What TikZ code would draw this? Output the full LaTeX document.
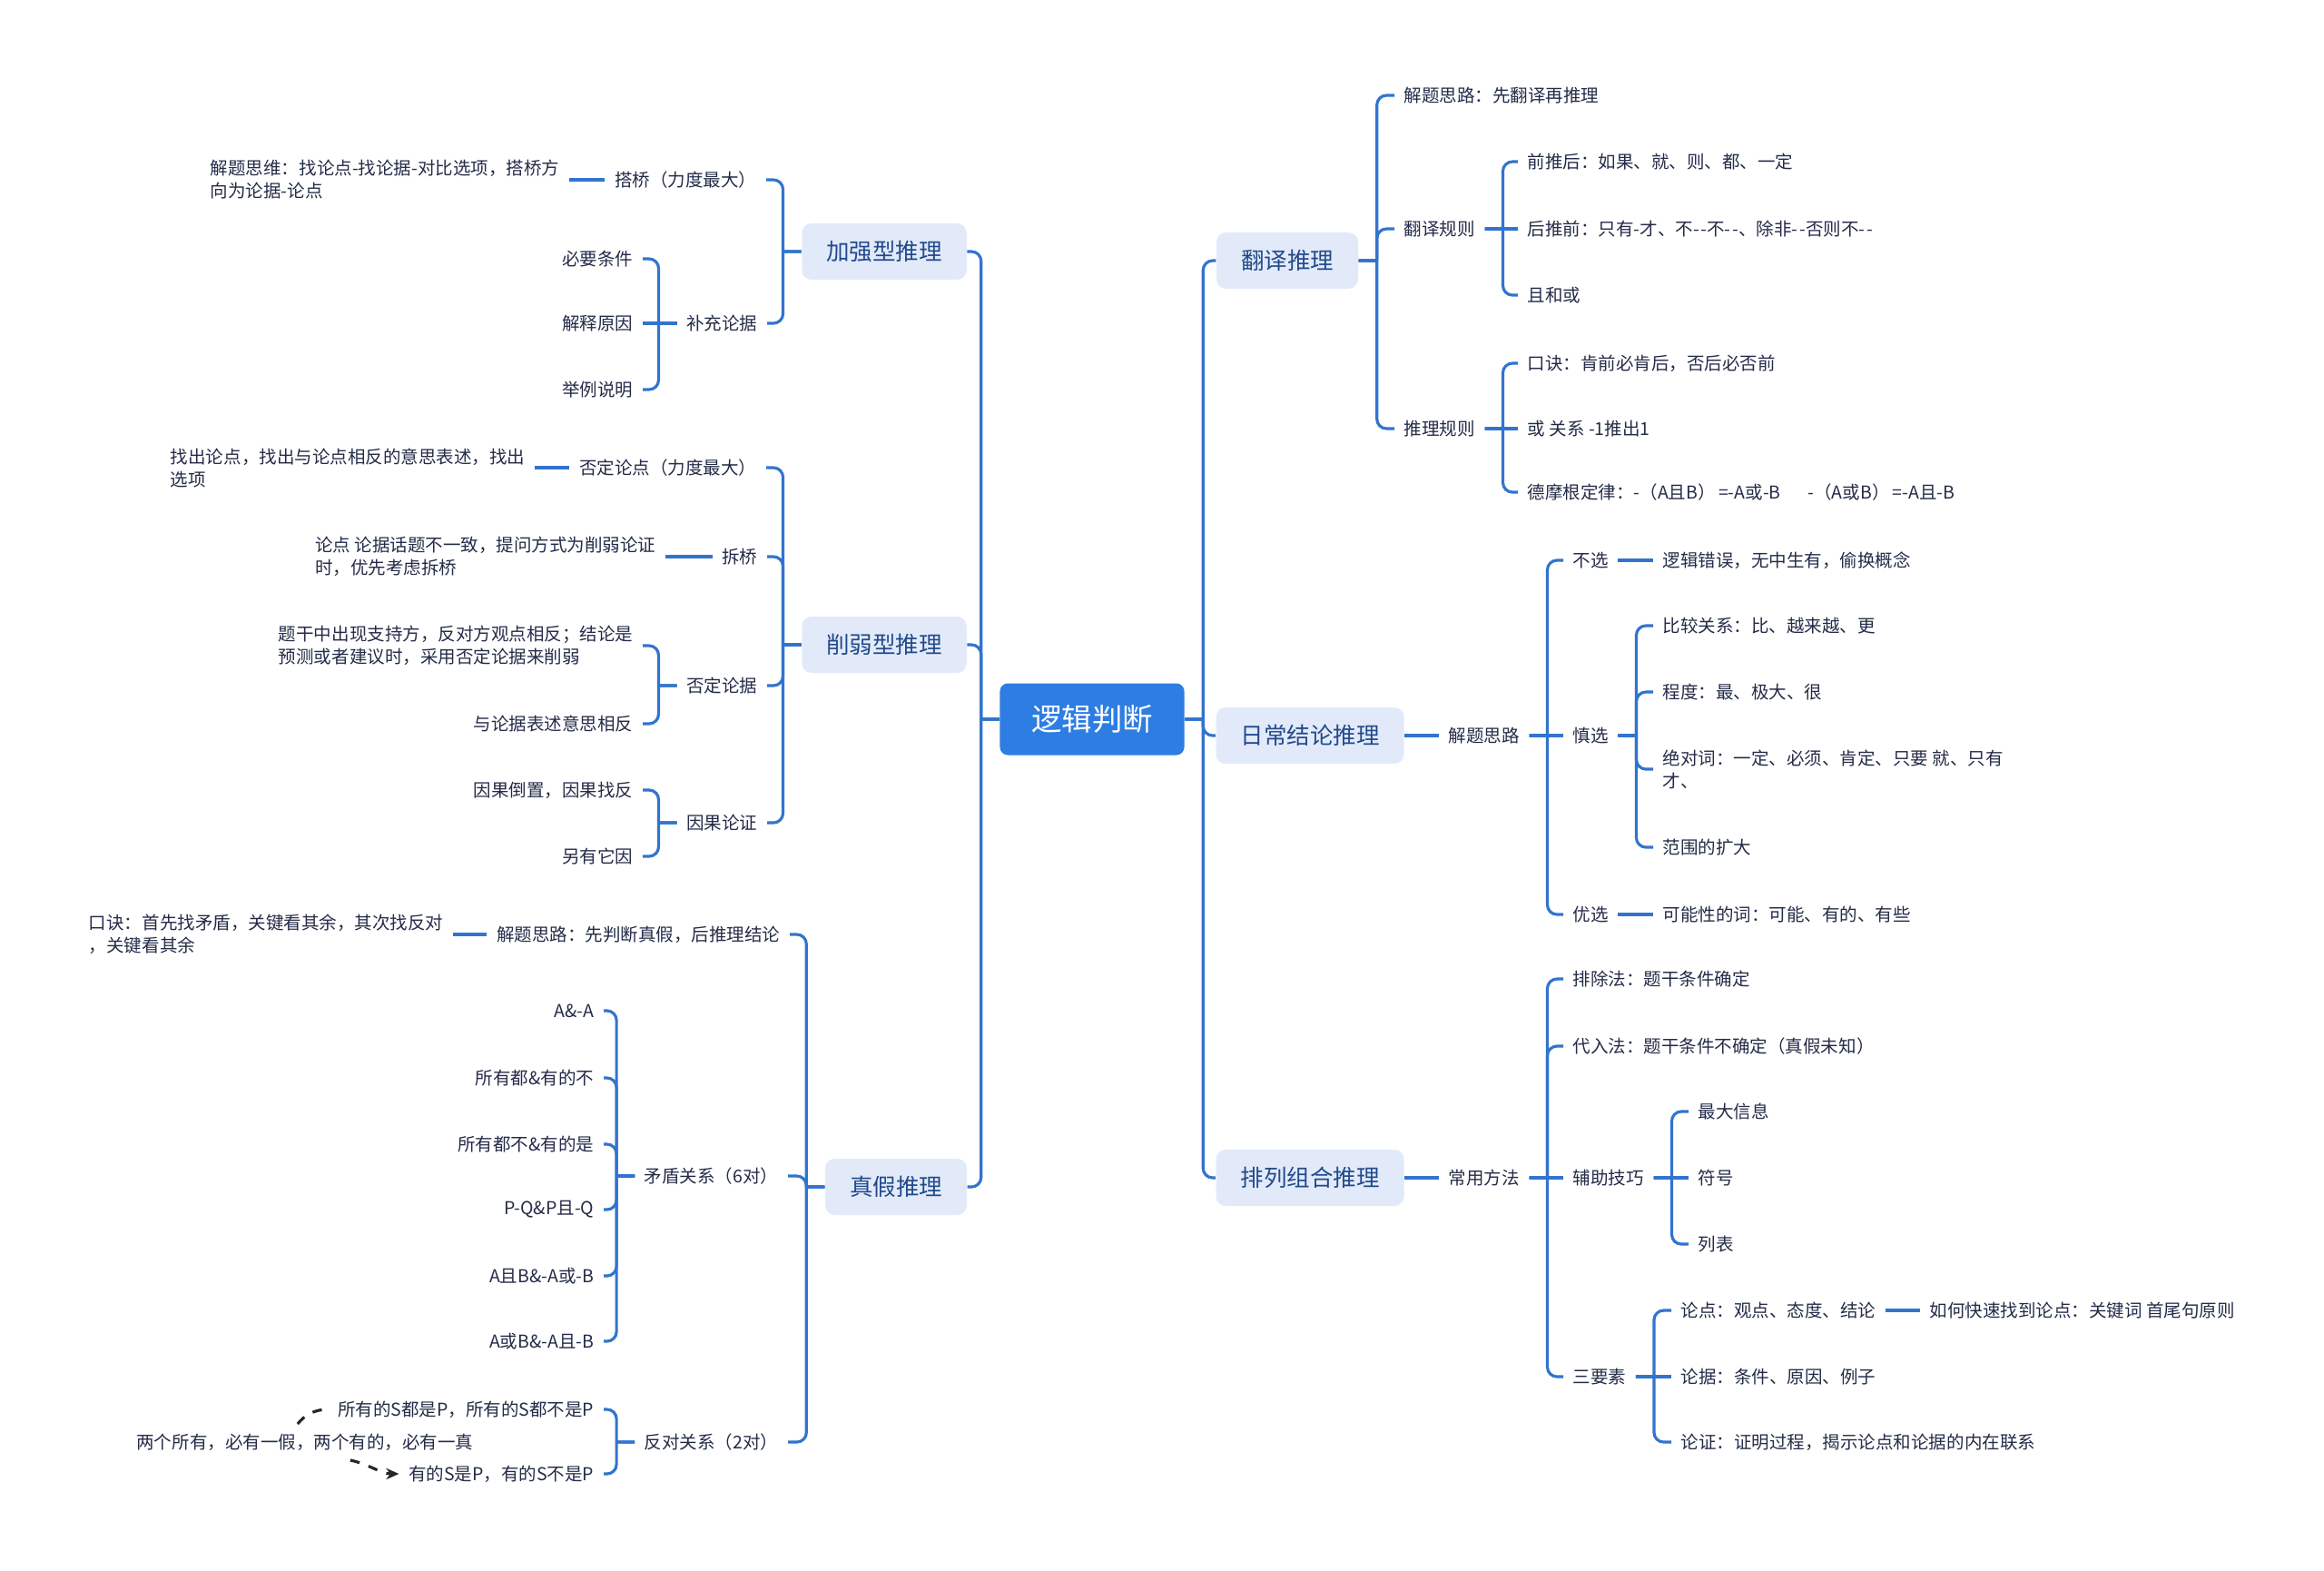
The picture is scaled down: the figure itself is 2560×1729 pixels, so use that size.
\documentclass[tikz,border=0pt]{standalone}
\usepackage{fontspec}
\setmainfont{Noto Sans CJK SC}
\usetikzlibrary{arrows.meta, calc}
\definecolor{linkblue}{RGB}{50,116,205}
\definecolor{rootblue}{RGB}{46,125,226}
\definecolor{mainfill}{RGB}{226,234,250}
\definecolor{maintext}{RGB}{34,74,138}
\definecolor{leaftext}{RGB}{36,44,72}

\tikzset{
    rootbox/.style={fill=rootblue, text=white, rounded corners=2.5pt, minimum width=2.03cm, minimum height=0.79cm, font=\fontsize{9.5pt}{11pt}\selectfont},
    mainbox/.style={fill=mainfill, text=maintext, rounded corners=3pt, inner xsep=0.27cm, minimum height=0.62cm, font=\fontsize{7.25pt}{9pt}\selectfont},
    leaf/.style={text=leaftext, inner sep=0.1cm, font=\fontsize{5.55pt}{7.1pt}\selectfont},
    lleaf/.style={leaf, anchor=east},
    rleaf/.style={leaf, anchor=west},
    link/.style={draw=linkblue, line width=0.9pt, rounded corners=3pt},
    toleft/.style={to path={-- ++(-20,0) coordinate (jn) (\tikztotarget) -| (jn)}},
    toright/.style={to path={-- ++(20,0) coordinate (jn) (\tikztotarget) -| (jn)}},
    relline/.style={draw=black!85, dashed, line width=0.9pt},
}

\begin{document}
\begin{tikzpicture}[x=0.01cm, y=-0.01cm]
    \fill[white] (0,0) rectangle (2560,1729);
    \useasboundingbox (0,0) rectangle (2560,1729);

    % Root
    \node[rootbox] (root) at (1203,792) {逻辑判断};

    % Main branches
    \node[mainbox] (jq) at (974,277) {加强型推理};
    \node[mainbox] (xr) at (974,710) {削弱型推理};
    \node[mainbox] (zj) at (987,1307) {真假推理};
    \node[mainbox] (fy) at (1418,287) {翻译推理};
    \node[mainbox] (rc) at (1443,810) {日常结论推理};
    \node[mainbox] (pl) at (1443,1297) {排列组合推理};

    \foreach \c in {jq,xr,zj}
        \draw[link] (root.west) to[toleft] (\c.east);
    \foreach \c in {fy,rc,pl}
        \draw[link] (root.east) to[toright] (\c.west);

    % 加强型推理
    \node[lleaf] (jq_dq) at (844,198) {搭桥（力度最大）};
    \node[lleaf, align=left] (jq_dq_n) at (627,198) {解题思维：找论点-找论据-对比选项，搭桥方\\向为论据-论点};
    \node[lleaf] (jq_bc) at (845,356) {补充论据};
    \node[lleaf] (jq_bc1) at (708,285) {必要条件};
    \node[lleaf] (jq_bc2) at (708,356) {解释原因};
    \node[lleaf] (jq_bc3) at (708,429) {举例说明};
    \draw[link] (jq.west) to[toleft] (jq_dq.east);
    \draw[link] (jq.west) to[toleft] (jq_bc.east);
    \draw[link] (jq_dq.west) -- (jq_dq_n.east);
    \draw[link] (jq_bc.west) to[toleft] (jq_bc1.east);
    \draw[link] (jq_bc.west) -- (jq_bc2.east);
    \draw[link] (jq_bc.west) to[toleft] (jq_bc3.east);

    % 削弱型推理
    \node[lleaf] (xr_fd) at (844,515) {否定论点（力度最大）};
    \node[lleaf, align=left] (xr_fd_n) at (589,515) {找出论点，找出与论点相反的意思表述，找出\\选项};
    \node[lleaf] (xr_cq) at (845,613) {拆桥};
    \node[lleaf, align=left] (xr_cq_n) at (733,613) {论点 论据话题不一致，提问方式为削弱论证\\时，优先考虑拆桥};
    \node[lleaf] (xr_fj) at (845,755) {否定论据};
    \node[lleaf, align=left] (xr_fj1) at (708,711) {题干中出现支持方，反对方观点相反；结论是\\预测或者建议时，采用否定论据来削弱};
    \node[lleaf] (xr_fj2) at (708,797) {与论据表述意思相反};
    \node[lleaf] (xr_yg) at (845,906) {因果论证};
    \node[lleaf] (xr_yg1) at (708,870) {因果倒置，因果找反};
    \node[lleaf] (xr_yg2) at (708,943) {另有它因};
    \foreach \c in {xr_fd,xr_cq,xr_fj,xr_yg}
        \draw[link] (xr.west) to[toleft] (\c.east);
    \draw[link] (xr_fd.west) -- (xr_fd_n.east);
    \draw[link] (xr_cq.west) -- (xr_cq_n.east);
    \draw[link] (xr_fj.west) to[toleft] (xr_fj1.east);
    \draw[link] (xr_fj.west) to[toleft] (xr_fj2.east);
    \draw[link] (xr_yg.west) to[toleft] (xr_yg1.east);
    \draw[link] (xr_yg.west) to[toleft] (xr_yg2.east);

    % 真假推理
    \node[lleaf] (zj_sl) at (870,1029) {解题思路：先判断真假，后推理结论};
    \node[lleaf, align=left] (zj_sl_n) at (499,1029) {口诀：首先找矛盾，关键看其余，其次找反对\\，关键看其余};
    \node[lleaf] (zj_md) at (868,1295) {矛盾关系（6对）};
    \node[lleaf] (zj_fd) at (868,1588) {反对关系（2对）};
    \foreach \c in {zj_sl,zj_md,zj_fd}
        \draw[link] (zj.west) to[toleft] (\c.east);
    \draw[link] (zj_sl.west) -- (zj_sl_n.east);
    \foreach \i/\y/\t in {1/1113/A\&-A, 2/1187/所有都\&有的不, 3/1260/所有都不\&有的是, 4/1332/P-Q\&P且-Q, 5/1405/A且B\&-A或-B, 6/1477/A或B\&-A且-B} {
        \node[lleaf] (zj_md\i) at (665,\y) {\t};
        \draw[link] (zj_md.west) to[toleft] (zj_md\i.east);
    }
    \node[lleaf] (zj_fd1) at (665,1552) {所有的S都是P，所有的S都不是P};
    \node[lleaf] (zj_fd2) at (665,1623) {有的S是P，有的S不是P};
    \node[lleaf] (zj_fd_n) at (532,1588) {两个所有，必有一假，两个有的，必有一真};
    \draw[link] (zj_fd.west) to[toleft] (zj_fd1.east);
    \draw[link] (zj_fd.west) to[toleft] (zj_fd2.east);
    \draw[relline] ($(zj_fd_n.north)+(-8,0)$) .. controls +(8,-10) and +(-15,0) .. (zj_fd1.west);
    \draw[relline, -{Stealth[length=4pt,width=3.5pt]}] ($(zj_fd_n.south)+(50,0)$) .. controls +(20,4) and +(-20,0) .. (zj_fd2.west);

    % 翻译推理
    \node[rleaf] (fy_sl) at (1536,105) {解题思路：先翻译再推理};
    \node[rleaf] (fy_gz) at (1536,252) {翻译规则};
    \node[rleaf] (fy_gz1) at (1672,178) {前推后：如果、就、则、都、一定};
    \node[rleaf] (fy_gz2) at (1672,252) {后推前：只有-才、不-\kern0.5pt-不-\kern0.5pt-、除非-\kern0.5pt-否则不-\kern0.5pt-};
    \node[rleaf] (fy_gz3) at (1672,325) {且和或};
    \node[rleaf] (fy_tl) at (1536,472) {推理规则};
    \node[rleaf] (fy_tl1) at (1672,400) {口诀：肯前必肯后，否后必否前};
    \node[rleaf] (fy_tl2) at (1672,472) {或 关系 -1推出1};
    \node[rleaf] (fy_tl3) at (1672,542) {德摩根定律：-（A且B）\,=-A或-B\hspace{0.3cm}-（A或B）\,=-A且-B};
    \foreach \c in {fy_sl,fy_gz,fy_tl}
        \draw[link] (fy.east) to[toright] (\c.west);
    \draw[link] (fy_gz.east) to[toright] (fy_gz1.west);
    \draw[link] (fy_gz.east) -- (fy_gz2.west);
    \draw[link] (fy_gz.east) to[toright] (fy_gz3.west);
    \draw[link] (fy_tl.east) to[toright] (fy_tl1.west);
    \draw[link] (fy_tl.east) -- (fy_tl2.west);
    \draw[link] (fy_tl.east) to[toright] (fy_tl3.west);

    % 日常结论推理
    \node[rleaf] (rc_sl) at (1585,810) {解题思路};
    \node[rleaf] (rc_bx) at (1722,617) {不选};
    \node[rleaf] (rc_bx_n) at (1821,617) {逻辑错误，无中生有，偷换概念};
    \node[rleaf] (rc_sx) at (1722,810) {慎选};
    \node[rleaf] (rc_sx1) at (1821,689) {比较关系：比、越来越、更};
    \node[rleaf] (rc_sx2) at (1821,762) {程度：最、极大、很};
    \node[rleaf, align=left] (rc_sx3) at (1821,847) {绝对词：一定、必须、肯定、只要 就、只有\\才、};
    \node[rleaf] (rc_sx4) at (1821,933) {范围的扩大};
    \node[rleaf] (rc_yx) at (1722,1007) {优选};
    \node[rleaf] (rc_yx_n) at (1821,1007) {可能性的词：可能、有的、有些};
    \draw[link] (rc.east) -- (rc_sl.west);
    \draw[link] (rc_sl.east) to[toright] (rc_bx.west);
    \draw[link] (rc_sl.east) -- (rc_sx.west);
    \draw[link] (rc_sl.east) to[toright] (rc_yx.west);
    \draw[link] (rc_bx.east) -- (rc_bx_n.west);
    \draw[link] (rc_yx.east) -- (rc_yx_n.west);
    \foreach \c in {rc_sx1,rc_sx2,rc_sx3,rc_sx4}
        \draw[link] (rc_sx.east) to[toright] (\c.west);

    % 排列组合推理
    \node[rleaf] (pl_cy) at (1585,1297) {常用方法};
    \node[rleaf] (pl_pc) at (1722,1078) {排除法：题干条件确定};
    \node[rleaf] (pl_dr) at (1722,1152) {代入法：题干条件不确定（真假未知）};
    \node[rleaf] (pl_fz) at (1722,1297) {辅助技巧};
    \node[rleaf] (pl_fz1) at (1860,1224) {最大信息};
    \node[rleaf] (pl_fz2) at (1860,1297) {符号};
    \node[rleaf] (pl_fz3) at (1860,1370) {列表};
    \node[rleaf] (pl_sy) at (1722,1516) {三要素};
    \node[rleaf] (pl_sy1) at (1841,1443) {论点：观点、态度、结论};
    \node[rleaf] (pl_sy1_n) at (2115,1443) {如何快速找到论点：关键词 首尾句原则};
    \node[rleaf] (pl_sy2) at (1841,1516) {论据：条件、原因、例子};
    \node[rleaf] (pl_sy3) at (1841,1588) {论证：证明过程，揭示论点和论据的内在联系};
    \draw[link] (pl.east) -- (pl_cy.west);
    \draw[link] (pl_cy.east) to[toright] (pl_pc.west);
    \draw[link] (pl_cy.east) to[toright] (pl_dr.west);
    \draw[link] (pl_cy.east) -- (pl_fz.west);
    \draw[link] (pl_cy.east) to[toright] (pl_sy.west);
    \draw[link] (pl_fz.east) to[toright] (pl_fz1.west);
    \draw[link] (pl_fz.east) -- (pl_fz2.west);
    \draw[link] (pl_fz.east) to[toright] (pl_fz3.west);
    \draw[link] (pl_sy.east) to[toright] (pl_sy1.west);
    \draw[link] (pl_sy.east) -- (pl_sy2.west);
    \draw[link] (pl_sy.east) to[toright] (pl_sy3.west);
    \draw[link] (pl_sy1.east) -- (pl_sy1_n.west);

\end{tikzpicture}
\end{document}
